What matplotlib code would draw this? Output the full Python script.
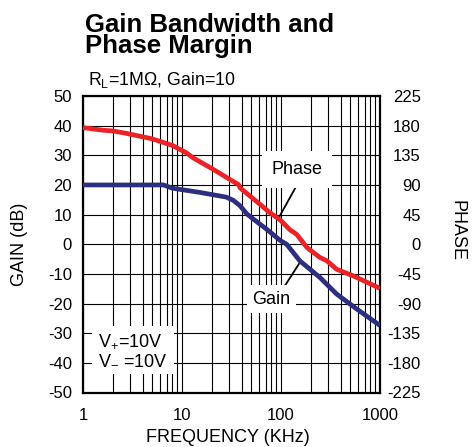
import matplotlib
matplotlib.use("Agg")
import matplotlib.pyplot as plt
from matplotlib.ticker import FixedLocator, NullFormatter

plt.rcParams["font.family"] = ["Liberation Sans", "DejaVu Sans"]
plt.rcParams["mathtext.default"] = "regular"
plt.rcParams["axes.unicode_minus"] = False

# Open-loop gain (dB) vs frequency (kHz)
gain_freq = [1, 3, 6.5, 8, 15, 28, 33, 38.5, 45, 52.5, 72, 98, 114, 155, 247, 365, 580, 1000]
gain_db = [20, 20, 20, 18.9, 17.5, 15.9, 14.8, 13, 10.3, 8.5, 5, 1.3, 0, -5.6, -11.2, -16.8, -21.8, -27.4]

# Phase (degrees) vs frequency (kHz)
phase_freq = [1, 1.6, 2, 2.8, 5, 8, 11, 13, 20.5, 34, 37, 39, 61, 77, 98, 123, 144, 183, 247, 290, 365, 537, 1000]
phase_deg = [177, 173, 172, 168, 160, 150, 139, 131, 114, 94, 91, 85, 61, 48, 37, 22, 15, -5, -20, -25, -38, -48, -67]

freq_ticks = [1, 10, 100, 1000]
freq_tick_labels = ["1", "10", "100", "1000"]
gain_ticks = list(range(-50, 51, 10))
phase_ticks = list(range(-225, 226, 45))

W, H = 473, 447
fig = plt.figure(figsize=(W / 100, H / 100), dpi=100)
ax = fig.add_axes([83 / W, 1 - 392.5 / H, 297 / W, 296.5 / H])

ax.set_xscale("log")
ax.set_xlim(1, 1000)
ax.set_ylim(-50, 50)
ax.xaxis.set_major_locator(FixedLocator(freq_ticks))
ax.set_xticklabels(freq_tick_labels)
minor = [m * d for d in (1, 10, 100) for m in range(2, 10)]
ax.xaxis.set_minor_locator(FixedLocator(minor))
ax.xaxis.set_minor_formatter(NullFormatter())
ax.set_yticks(gain_ticks)
ax.set_yticklabels([str(v) for v in gain_ticks])
ax.tick_params(axis="both", which="both", length=0, labelsize=12)
ax.tick_params(axis="x", pad=11)
ax.tick_params(axis="y", pad=8)
ax.grid(True, which="both", color="black", linewidth=0.8)
for s in ax.spines.values():
    s.set_linewidth(1.6)
    s.set_color("black")

ax.plot(gain_freq, gain_db, color="#2C2F7F", linewidth=3.4, solid_joinstyle="round",
        solid_capstyle="butt", zorder=3)

ax2 = ax.twinx()
ax2.set_ylim(-225, 225)
ax2.set_yticks(phase_ticks)
ax2.set_yticklabels([str(v) for v in phase_ticks])
ax2.tick_params(axis="y", length=0, labelsize=12, pad=29.5)
for lab in ax2.get_yticklabels():
    lab.set_horizontalalignment("right")
for s in ax2.spines.values():
    s.set_visible(False)
ax2.plot(phase_freq, phase_deg, color="#ED2226", linewidth=3.4, solid_joinstyle="round",
         solid_capstyle="butt", zorder=3)

# Curve call-outs
ax.annotate("", xy=(93, 8.4), xytext=(145, 20),
            arrowprops=dict(arrowstyle="-", color="black", lw=1.3, shrinkA=0, shrinkB=0))
ax.text(145, 25.3, "Phase", fontsize=13, ha="center", va="center", zorder=4,
        bbox=dict(boxstyle="square,pad=0.55", fc="white", ec="none"))
ax.annotate("", xy=(152, -6.6), xytext=(110, -13.9),
            arrowprops=dict(arrowstyle="-", color="black", lw=1.3, shrinkA=0, shrinkB=0))
ax.text(80, -18.6, "Gain", fontsize=13, ha="center", va="center", zorder=4,
        bbox=dict(boxstyle="square,pad=0.3", fc="white", ec="none"))

ax.text(1.42, -35.6, "V$_{+}$=10V\nV$_{-}$ =10V", fontsize=13, ha="left", va="center",
        linespacing=1.05, zorder=4,
        bbox=dict(boxstyle="square,pad=0.35", fc="white", ec="none"))

# Titles and axis labels
fig.text(85 / W, 1 - 31.5 / H, "Gain Bandwidth and", fontsize=18.5, fontweight="bold",
         ha="left", va="baseline")
fig.text(85 / W, 1 - 53.5 / H, "Phase Margin", fontsize=18.5, fontweight="bold",
         ha="left", va="baseline")
fig.text(88 / W, 1 - 85 / H, "R$_{L}$=1M\u03a9, Gain=10", fontsize=12.8,
         ha="left", va="baseline")
fig.text(228 / W, 1 - 441.5 / H, "FREQUENCY (KHz)", fontsize=13, ha="center", va="baseline")
fig.text(20 / W, 1 - 244 / H, "GAIN (dB)", fontsize=13, rotation=90, ha="center", va="center")
fig.text(457 / W, 1 - 230 / H, "PHASE", fontsize=13, rotation=270, ha="center", va="center")

fig.savefig("out.png", dpi=100)
